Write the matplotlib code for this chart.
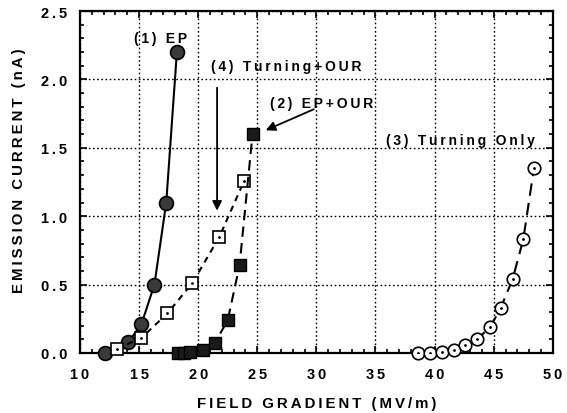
import matplotlib
matplotlib.use("Agg")
import matplotlib.pyplot as plt
from matplotlib.ticker import MultipleLocator

plt.rcParams['font.family'] = ['Liberation Sans', 'DejaVu Sans']
plt.rcParams['font.weight'] = 'bold'

# (1) EP
ep_x = [12.1, 14.1, 15.2, 16.3, 17.3, 18.2]
ep_y = [0.0, 0.08, 0.21, 0.50, 1.10, 2.20]
# (4) Turning+OUR
tour_x = [13.1, 15.2, 17.4, 19.5, 21.8, 23.9]
tour_y = [0.03, 0.11, 0.29, 0.51, 0.85, 1.26]
# (2) EP+OUR
epour_x = [18.3, 18.8, 19.3, 20.4, 21.4, 22.5, 23.5, 24.6]
epour_y = [0.0, 0.0, 0.005, 0.02, 0.07, 0.24, 0.64, 1.60]
# (3) Turning Only
turn_x = [38.6, 39.6, 40.6, 41.6, 42.6, 43.6, 44.7, 45.6, 46.6, 47.5, 48.4]
turn_y = [0.0, 0.0, 0.01, 0.025, 0.055, 0.10, 0.19, 0.33, 0.54, 0.83, 1.35]

xticks = [10, 15, 20, 25, 30, 35, 40, 45, 50]
yticks = [0.0, 0.5, 1.0, 1.5, 2.0, 2.5]


def sp(s):
    """Wide letter spacing, as in the original typesetting."""
    return '\u2009'.join(s)


fig = plt.figure(figsize=(5.67, 4.14), dpi=100)
ax = fig.add_axes([0.141, 0.145, 0.834, 0.826])

ax.set_xlim(10, 50)
ax.set_ylim(0, 2.5)
ax.set_xticks(xticks)
ax.set_yticks(yticks)
ax.set_xticklabels([sp(str(t)) for t in xticks], fontweight='bold')
ax.set_yticklabels([sp(f"{t:.1f}") for t in yticks], fontweight='bold')
ax.xaxis.set_minor_locator(MultipleLocator(1))
ax.yaxis.set_minor_locator(MultipleLocator(0.1))
ax.tick_params(which='both', direction='in', top=True, right=True, width=1.2)
ax.tick_params(which='major', length=5, labelsize=10.5)
ax.tick_params(axis='x', which='major', pad=10)
ax.tick_params(axis='y', which='major', pad=9)
ax.tick_params(which='minor', length=3)
for s in ax.spines.values():
    s.set_linewidth(1.6)

ax.grid(True, which='major', linestyle=(0, (1.2, 1.8)), color='black', linewidth=1.0)
ax.set_axisbelow(True)

lw = 1.5
ax.plot(ep_x, ep_y, '-', color='black', lw=lw, marker='o', ms=10,
        mfc='#3a3a3a', mec='black', mew=1.2, clip_on=False, zorder=3)
ax.plot(tour_x, tour_y, color='black', lw=lw, linestyle=(0, (3, 2.5)), marker='s', ms=9,
        mfc='white', mec='black', mew=1.2, clip_on=False, zorder=3)
ax.plot(tour_x, tour_y, linestyle='none', marker='.', ms=2, color='black', zorder=4)
ax.plot(epour_x, epour_y, color='black', lw=lw, linestyle=(0, (5, 3)), marker='s', ms=8,
        mfc='#1a1a1a', mec='black', mew=1.0, clip_on=False, zorder=3)
ax.plot(turn_x, turn_y, color='black', lw=lw, linestyle=(0, (6, 3.5)), marker='o', ms=9,
        mfc='white', mec='black', mew=1.2, clip_on=False, zorder=3)
ax.plot(turn_x, turn_y, linestyle='none', marker='.', ms=2, color='black', zorder=4)

tk = dict(fontsize=10, fontweight='bold', ha='left', va='center')
ax.text(14.6, 2.30, sp("(1) EP"), **tk)
ax.text(21.1, 2.10, sp("(4) Turning+OUR"), **tk)
ax.text(26.1, 1.83, sp("(2) EP+OUR"), **tk)
ax.text(35.9, 1.56, sp("(3) Turning Only"), **tk)

ax.annotate("", xy=(21.6, 1.02), xytext=(21.6, 1.96),
            arrowprops=dict(arrowstyle='-|>', color='black', lw=1.3, mutation_scale=14))
ax.annotate("", xy=(25.5, 1.62), xytext=(30.0, 1.79),
            arrowprops=dict(arrowstyle='-|>', color='black', lw=1.3, mutation_scale=14))

ax.set_xlabel(sp("FIELD GRADIENT (MV/m)"), fontsize=10.8, fontweight='bold')
ax.set_ylabel(sp("EMISSION CURRENT (nA)"), fontsize=10.8, fontweight='bold')
ax.xaxis.set_label_coords(0.5, -0.125)
ax.yaxis.set_label_coords(-0.115, 0.535)

fig.savefig("out.png", dpi=100)
